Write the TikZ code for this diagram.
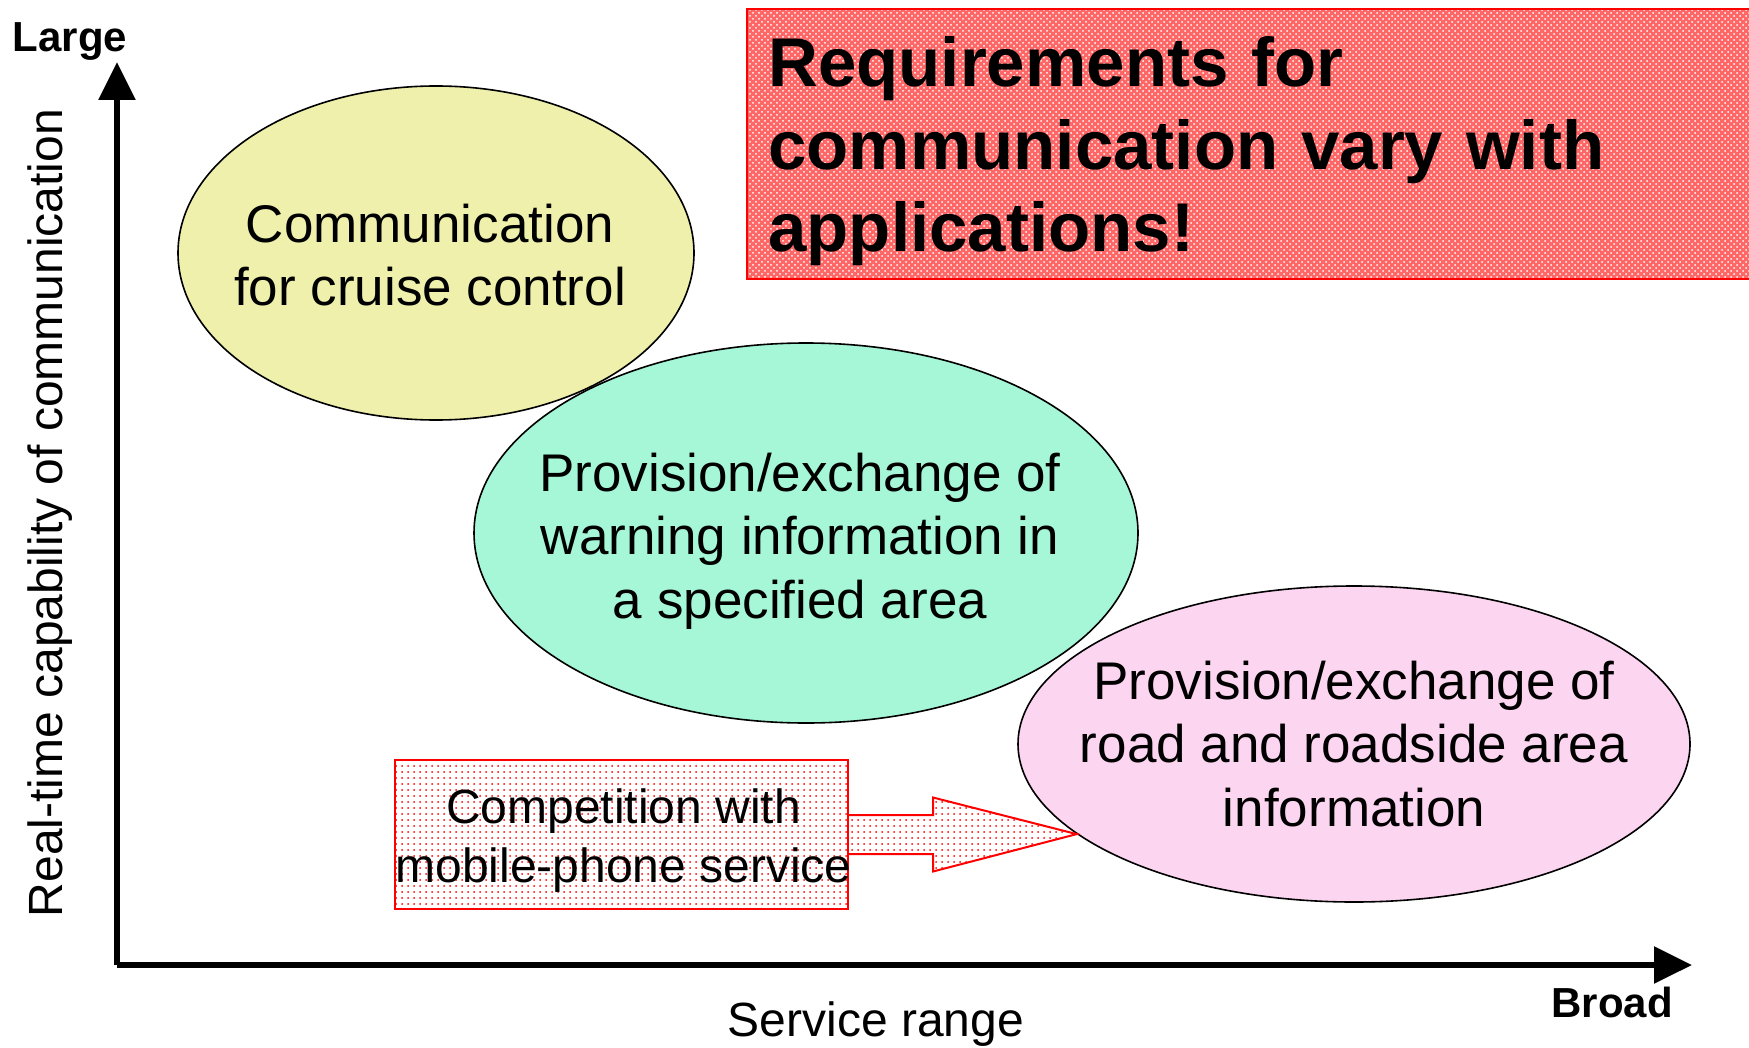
\documentclass[tikz,border=0pt]{standalone}
\usepackage{fontspec}
\setmainfont{Liberation Sans}
\usetikzlibrary{shapes.geometric,arrows.meta,patterns,positioning}

\definecolor{cruisefill}{RGB}{238,240,172}
\definecolor{warnfill}{RGB}{166,247,216}
\definecolor{roadfill}{RGB}{252,213,240}

\begin{document}
\begin{tikzpicture}[x=0.5pt,y=-0.5pt]
                \tikzstyle{bubble}=[draw, ellipse, line width=0.8pt, inner sep=0pt]
                \tikzstyle{bubbletext}=[align=center, font=\fontsize{26.5}{31.8}\selectfont]
                \tikzstyle{axis}=[line width=3pt, -{Triangle[length=19pt,width=18pt]}]
                \tikzstyle{titlebox}=[draw=red, line width=1pt, preaction={fill=red!60}, pattern=crosshatch dots, pattern color=white]
                \tikzstyle{compbox}=[draw=red, line width=1pt, preaction={fill=white}, pattern=dots, pattern color=red]
                \tikzstyle{axislabel}=[font=\fontsize{24}{29}\selectfont]
                \tikzstyle{endlabel}=[font=\bfseries\fontsize{21}{25}\selectfont]

                \useasboundingbox (0,0) rectangle (1749,1048);

                % axes
                \coordinate (o) at (117,965);
                \coordinate (ytop) at (117,62);
                \coordinate (xend) at (1692,965);
                \draw[axis] (o) -- (ytop);
                \draw[axis] (o) -- (xend);

                \node[endlabel] (large) at (70,42) {Large};
                \node[endlabel] (broad) at (1612,1002) {Broad};
                \node[axislabel] (xlab) at (876,1024) {Service range};
                \node[axislabel, rotate=90] (ylab) at (50,513) {Real-time capability of communication};

                % application bubbles
                \node[bubble, fill=cruisefill, minimum width=258pt, minimum height=167pt] (cruise) at (436,253) {};
                \node[bubbletext] at ([xshift=-3pt,yshift=-1pt]cruise) {Communication\\for cruise control};
                \node[bubble, fill=warnfill, minimum width=332pt, minimum height=190pt] (warn) at (806,533) {};
                \node[bubbletext] at ([xshift=-3pt,yshift=-4pt]warn) {Provision/exchange of\\warning information in\\a specified area};
                \node[bubble, fill=roadfill, minimum width=336pt, minimum height=158pt] (road) at (1354,744) {};
                \node[bubbletext] at (road) {Provision/exchange of\\road and roadside area\\information};

                % headline
                \node[titlebox, anchor=north west, minimum width=507pt, minimum height=135pt] (req) at (746,8) {};
                \node[anchor=west, text width=480pt, inner sep=0pt, align=left, font=\bfseries\fontsize{34.5}{41.3}\selectfont]
                    at ([xshift=11pt,yshift=-3.75pt]req.west) {Requirements for\\communication vary with\\applications!};

                % competition box and block arrow
                \node[compbox, minimum width=226.5pt, minimum height=74.5pt, inner sep=0pt] (comp) at (621.5,834.5) {};
                \node[align=center, inner sep=0pt, font=\fontsize{24}{29.5}\selectfont] at ([xshift=1pt,yshift=-3pt]comp) {Competition with\\mobile-phone service};
                \path (comp.east) ++(84,0) coordinate (hb);
                \draw[compbox] ([yshift=9.75pt]comp.east) -- ([yshift=9.75pt]hb) -- ([yshift=18.5pt]hb) -- (road.198)
                    -- ([yshift=-18.5pt]hb) -- ([yshift=-9.75pt]hb) -- ([yshift=-9.75pt]comp.east);
            \end{tikzpicture}
\end{document}
